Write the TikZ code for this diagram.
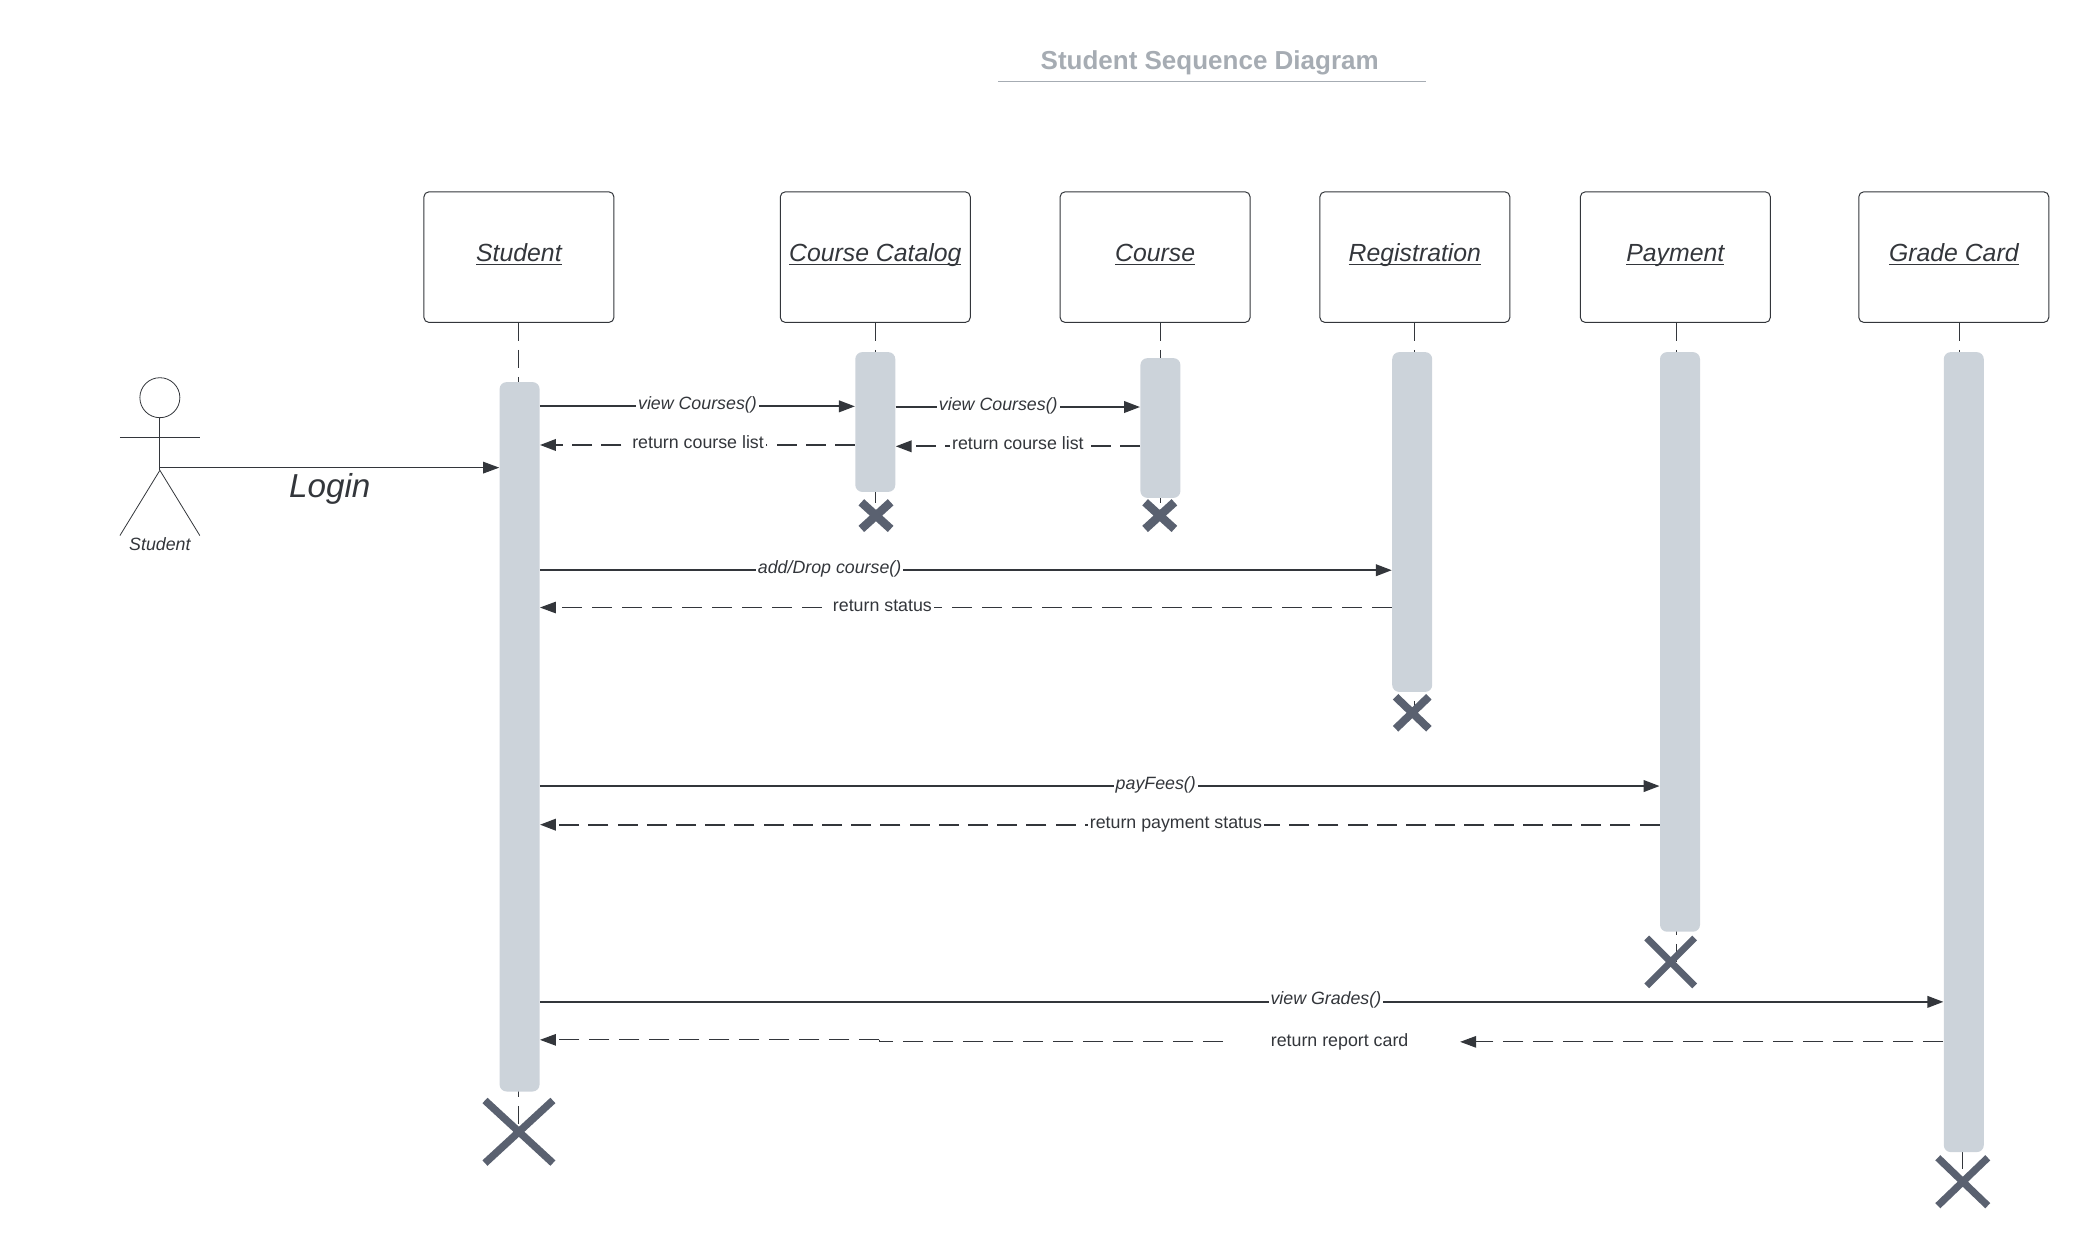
\documentclass[tikz,border=0pt]{standalone}
\usepackage{fontspec}
\setmainfont{Liberation Sans}
\usetikzlibrary{arrows.meta,calc}
\definecolor{barc}{HTML}{CCD3DA}
\definecolor{crossc}{HTML}{5A6170}
\definecolor{inkc}{HTML}{33363B}
\definecolor{titlec}{HTML}{A6ACB3}
\tikzset{
  obj/.style={draw=inkc,line width=0.5pt,rounded corners=2.5pt,minimum width=95pt,minimum height=65.3pt,inner sep=0pt,text height=7pt,text depth=2.4pt,font=\fontsize{12.4}{14}\selectfont\itshape,text=inkc},
  bar/.style={fill=barc,rounded corners=3.5pt,minimum width=20pt,inner sep=0pt},
  life/.style={draw=inkc,line width=0.4pt,dash pattern=on 9pt off 4.5pt},
  xmark/.style={draw=crossc,line cap=butt},
  tip/.style={-{Triangle[length=8pt,width=5.8pt]}},
  msg/.style={draw=inkc,line width=1pt,tip},
  ret/.style={draw=inkc,line width=1pt,dash pattern=on 10pt off 4.6pt,tip},
  retthin/.style={draw=inkc,line width=0.5pt,dash pattern=on 10pt off 5pt,tip},
  lab/.style={fill=white,inner sep=1pt,text height=6.4pt,text depth=1.9pt,yshift=0.5pt,font=\fontsize{8.9}{10}\selectfont,text=inkc},
  call/.style={lab,yshift=0.2pt,font=\fontsize{8.9}{10}\selectfont\itshape},
  stick/.style={draw=inkc,line width=0.4pt},
}
\newcommand{\ulbl}[1]{\setbox0=\hbox{#1}\rlap{\rule[-1.5pt]{\wd0}{0.45pt}}\box0}
\begin{document}
\begin{tikzpicture}[x=0.66614pt,y=-0.66614pt]
\useasboundingbox (0,0) rectangle (1568,940);
% title
\node (title) at (908,47.5) [font=\fontsize{13}{15}\selectfont\bfseries,text=titlec,inner sep=0pt] {Student Sequence Diagram};
\coordinate (tl) at (749,61); \coordinate (tr) at (1070,61);
\draw[titlec,line width=0.6pt] (tl) -- (tr);
% objects
\node[obj] (oS) at (389.5,193) {\ulbl{Student}};
\node[obj] (oC) at (657,193) {\ulbl{Course Catalog}};
\node[obj] (oK) at (867,193) {\ulbl{Course}};
\node[obj] (oR) at (1062,193) {\ulbl{Registration}};
\node[obj] (oP) at (1257.5,193) {\ulbl{Payment}};
\node[obj] (oG) at (1466.5,193) {\ulbl{Grade Card}};
% lifeline ends
\coordinate (eS) at (389,849); \coordinate (eC) at (657,387);
\coordinate (eK) at (871,387); \coordinate (eR) at (1062,535);
\coordinate (eP) at (1258,722); \coordinate (eG) at (1473,887);
\coordinate (eGt) at (1471,265);
% lifelines
\draw[life] (oS.south -| eS) -- (eS);
\draw[life] (oC.south -| eC) -- (eC);
\draw[life] (oK.south -| eK) -- (eK);
\draw[life] (oR.south -| eR) -- (eR);
\draw[life] (oP.south -| eP) -- (eP);
\draw[life] (oG.south -| eGt) -- (eGt);
\draw[life] (1473,864) -- (eG);
% bars
\node[bar,anchor=north,minimum height=354.7pt] (bS) at (390,286.5) {};
\node[bar,anchor=north,minimum height=69.9pt] (bC) at (657,264) {};
\node[bar,anchor=north,minimum height=69.9pt] (bK) at (871,268.5) {};
\node[bar,anchor=north,minimum height=169.9pt] (bR) at (1060,264) {};
\node[bar,anchor=north,minimum height=289.8pt] (bP) at (1261,264) {};
\node[bar,anchor=north,minimum height=400pt] (bG) at (1474,264) {};
% crosses
\draw[xmark,line width=4.2pt] (646.5,377) -- (668.5,397) (668.5,377) -- (646.5,397);
\draw[xmark,line width=4.2pt] (859.5,377) -- (881.5,397) (881.5,377) -- (859.5,397);
\draw[xmark,line width=3.9pt] (1047.5,523) -- (1072.5,547) (1072.5,523) -- (1047.5,547);
\draw[xmark,line width=3.4pt] (1236,704) -- (1272,740) (1272,704) -- (1236,740);
\draw[xmark,line width=3.7pt] (364,826) -- (415,873) (415,826) -- (364,873);
\draw[xmark,line width=3.6pt] (1454.5,869) -- (1492,905) (1492,869) -- (1454.5,905);
% actor
\node (head) at (120,298.5) [draw=inkc,line width=0.4pt,circle,minimum size=20pt,inner sep=0pt] {};
\coordinate (hip) at (120,353);
\coordinate (armL) at (90,328); \coordinate (armR) at (150,328);
\coordinate (footL) at (90,402); \coordinate (footR) at (150,402);
\draw[stick] (head.south) -- (hip);
\draw[stick] (armL) -- (armR);
\draw[stick] (footL) -- (hip) -- (footR);
\node (actor) at (120,408.5) [font=\fontsize{8.9}{10}\selectfont\itshape,text=inkc,inner sep=0pt] {Student};
% login
\coordinate (login) at (120,351);
\draw[draw=inkc,line width=0.5pt,tip] (login) -- (bS.west |- login);
\node (loginl) at (247.5,367) [font=\fontsize{16.6}{19}\selectfont\itshape,text=inkc,inner sep=0pt] {Login};
% messages
\draw[msg] (bS.east |- 0,305) -- node[call,pos=.5] (m1) {view Courses()} (bC.west |- 0,305);
\draw[ret] (bC.west |- 0,334) -- node[lab,pos=.498] (m2) {return course list} (bS.east |- 0,334);
\draw[msg] (bC.east |- 0,305.5) -- node[call,pos=.42] (m3) {view Courses()} (bK.west |- 0,305.5);
\draw[ret] (bK.west |- 0,335) -- node[lab,pos=.5] (m4) {return course list} (bC.east |- 0,335);
\draw[msg] (bS.east |- 0,428) -- node[call,pos=.34] (m5) {add/Drop course()} (bR.west |- 0,428);
\draw[retthin] (bR.west |- 0,456) -- node[lab,pos=.598] (m6) {return status} (bS.east |- 0,456);
\draw[msg] (bS.east |- 0,590) -- node[call,pos=.55] (m7) {payFees()} (bP.west |- 0,590);
\draw[ret] (bP.west |- 0,619) -- node[lab,pos=.432] (m8) {return payment status} (bS.east |- 0,619);
\draw[msg] (bS.east |- 0,752) -- node[call,pos=.56] (m9) {view Grades()} (bG.west |- 0,752);
% return report card, in pieces
\node[lab,yshift=-0.5pt] (m10) at (1005.5,782) {return report card};
\coordinate (rb) at (660,782);
\coordinate (rc) at (918,782);
\coordinate (rd) at (1096,782);
\coordinate (re) at (660,780.5);
\draw[retthin] (bG.west |- rd) -- (rd);
\draw[retthin,-] (rc) -- (rb) -- (re);
\draw[retthin] (re) -- (bS.east |- re);
\end{tikzpicture}
\end{document}
